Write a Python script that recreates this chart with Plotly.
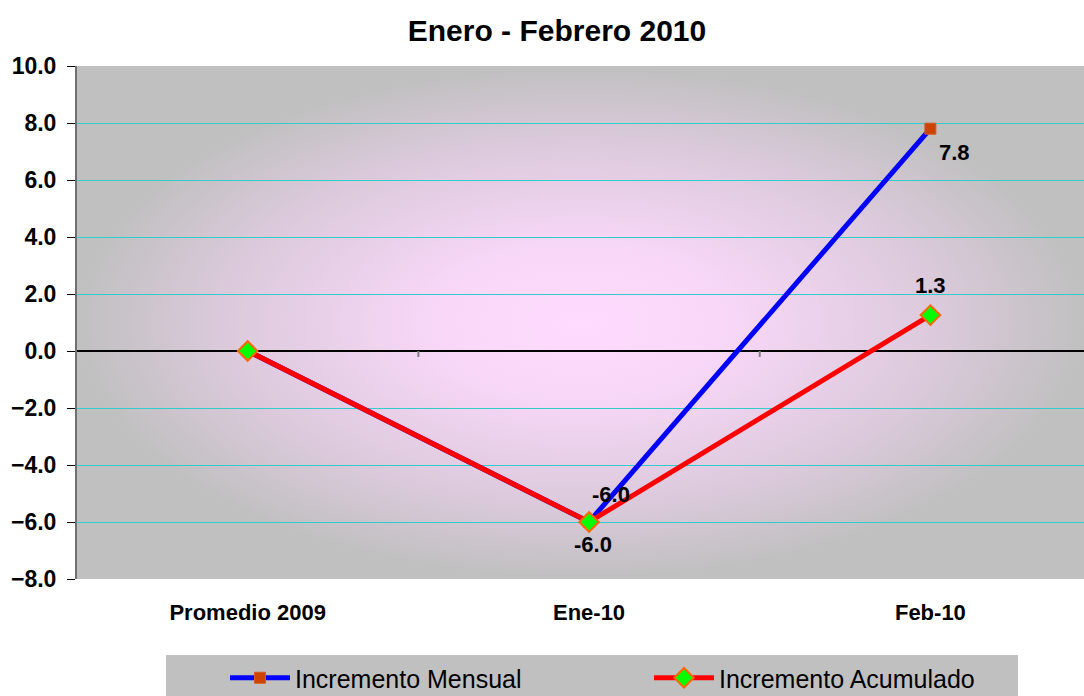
import base64
import plotly.graph_objects as go

# ---- data ----
categories = ["Promedio 2009", "Ene-10", "Feb-10"]
mensual = [0.0, -6.0, 7.8]
acumulado = [0.0, -6.0, 1.26]
title_text = "Enero - Febrero 2010"
name_mensual = "Incremento Mensual"
name_acumulado = "Incremento Acumulado"
y_ticks = [-8, -6, -4, -2, 0, 2, 4, 6, 8, 10]

FONT = "Liberation Sans, Arial, sans-serif"
W, H = 1084, 696
T, B = 66, 117
PH = H - T - B  # plot height

# radial background gradient (pink centre -> grey edges)
svg = (
    '<svg xmlns="http://www.w3.org/2000/svg" width="1000" height="500" '
    'viewBox="0 0 1000 500" preserveAspectRatio="none">'
    '<defs><radialGradient id="g" cx="0.5" cy="0.5" r="0.5">'
    '<stop offset="0" stop-color="#ffdbff"/>'
    '<stop offset="0.3" stop-color="#f7d7f7"/>'
    '<stop offset="0.7" stop-color="#dccadc"/>'
    '<stop offset="1" stop-color="#c0c0c0"/>'
    '</radialGradient></defs>'
    '<rect x="0" y="0" width="1000" height="500" fill="#c0c0c0"/>'
    '<rect x="0" y="0" width="1000" height="500" fill="url(#g)"/>'
    '</svg>'
)
svg_uri = "data:image/svg+xml;base64," + base64.b64encode(svg.encode()).decode()

fig = go.Figure()
fig.add_trace(go.Scatter(
    x=categories, y=mensual, name=name_mensual, mode="lines+markers",
    line=dict(color="#0000FF", width=5),
    marker=dict(symbol="square", size=11, color="#CC4400",
                line=dict(color="#D85A20", width=1)),
    legend="legend",
))
fig.add_trace(go.Scatter(
    x=categories, y=acumulado, name=name_acumulado, mode="lines+markers",
    line=dict(color="#FF0000", width=5),
    marker=dict(symbol="diamond", size=15, color="#00FF00",
                line=dict(color="#FF6600", width=2)),
    legend="legend2",
))

# data labels
label_font = dict(family=FONT, size=22, color="black", weight="bold")
labels = [
    (categories[1], mensual[1], 22, 28),
    (categories[2], mensual[2], 24, -24),
    (categories[2], acumulado[2], 0, 30),
    (categories[1], acumulado[1], 4, -22),
]
for cx, cy, dx, dy in labels:
    fig.add_annotation(x=cx, y=cy, text=f"{cy:.1f}", showarrow=False,
                       xshift=dx, yshift=dy, font=label_font)

# small category-boundary ticks on the zero line
for bx in (0.5, 1.5):
    fig.add_shape(type="line", xref="x", yref="y", x0=bx, x1=bx,
                  ysizemode="pixel", yanchor=0, y0=0, y1=-6,
                  line=dict(color="#808080", width=2))

# legend grey box
fig.add_shape(type="rect", xref="paper", yref="paper",
              x0=(166 - 77) / (W - 77), x1=(1018 - 77) / (W - 77),
              y0=-0.25, y1=((H - B) - 655) / PH,
              fillcolor="#C0C0C0", line=dict(width=0), layer="below")

fig.add_layout_image(dict(source=svg_uri, xref="paper", yref="paper",
                          x=0, y=1, sizex=1, sizey=1, xanchor="left",
                          yanchor="top", sizing="stretch", layer="below"))

leg_common = dict(orientation="h", xref="container", yref="container",
                  xanchor="left", y=1 - 678 / H, yanchor="middle",
                  bgcolor="rgba(0,0,0,0)", itemwidth=60,
                  font=dict(family=FONT, size=25, color="black"))

fig.update_layout(
    width=W, height=H,
    margin=dict(l=77, r=0, t=T, b=B, autoexpand=False),
    paper_bgcolor="white", plot_bgcolor="rgba(0,0,0,0)",
    font=dict(family=FONT, color="black"),
    title=dict(text=title_text, x=557 / W, xanchor="center",
               xref="container", y=1 - 30 / H, yref="container",
               yanchor="middle",
               font=dict(family=FONT, size=30, color="black", weight="bold")),
    showlegend=True,
    legend=dict(x=(296 - 71) / W, **leg_common),
    legend2=dict(x=(720 - 71) / W, **leg_common),
    xaxis=dict(type="category", range=[-0.5, 2.45], showgrid=False,
               automargin=False,
               showline=False, zeroline=False, ticks="outside",
               ticklen=14, tickcolor="rgba(0,0,0,0)",
               tickfont=dict(family=FONT, size=22, color="black",
                             weight="bold")),
    yaxis=dict(range=[-8, 10], tickvals=y_ticks, tickformat=".1f",
               automargin=False,
               showgrid=True, gridcolor="#33CCCC", gridwidth=1,
               zeroline=True, zerolinecolor="black", zerolinewidth=1.5,
               showline=True, linecolor="#707070", linewidth=2,
               ticks="outside", ticklen=8, tickcolor="black", tickwidth=1,
               ticklabelstandoff=6,
               tickfont=dict(family=FONT, size=23, color="black",
                             weight="bold")),
)

fig.write_html("out.html",
               config={"displayModeBar": False},
               post_script="document.body.style.margin='0';"
                           "document.body.style.overflow='hidden';")
